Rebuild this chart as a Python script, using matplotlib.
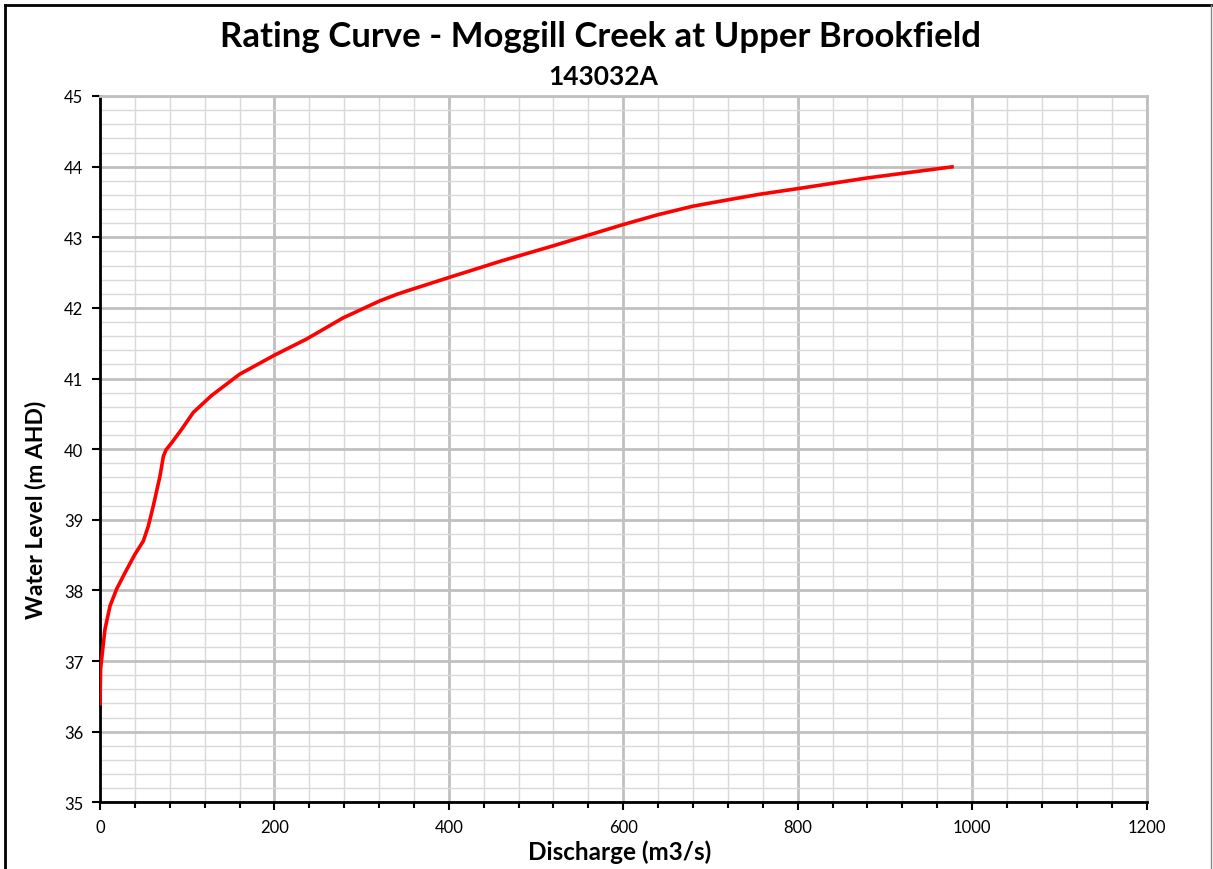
import matplotlib
matplotlib.use("Agg")
import matplotlib.pyplot as plt
from matplotlib.ticker import MultipleLocator
from matplotlib.lines import Line2D

# Data
discharge = [0, 0.7, 1.9, 5.7, 11.5, 19.1, 28.7, 40, 49.7, 55.4, 61.2, 68.8,
             72.7, 75.7, 82.2, 93.6, 107, 128, 160, 200, 237, 279, 321, 340,
             352, 400, 436, 459, 520, 600, 640, 680, 720, 757, 801, 880, 979]
level = [36.37, 36.89, 37.03, 37.45, 37.78, 38.02, 38.25, 38.51, 38.70, 38.91,
         39.20, 39.62, 39.90, 39.99, 40.09, 40.28, 40.52, 40.76, 41.06, 41.33,
         41.56, 41.86, 42.10, 42.19, 42.24, 42.43, 42.57, 42.66, 42.88, 43.18,
         43.32, 43.44, 43.53, 43.61, 43.69, 43.84, 44.0]

title = "Rating Curve - Moggill Creek at Upper Brookfield"
subtitle = "143032A"
xlabel = "Discharge (m3/s)"
ylabel = "Water Level (m AHD)"

plt.rcParams['font.family'] = ['Lato', 'DejaVu Sans']

W, H = 1213, 870
fig = plt.figure(figsize=(W / 100, H / 100), dpi=100)
ax = fig.add_axes([100 / W, 1 - 803.3 / H, (1146.5 - 100) / W, (803.3 - 97) / H])

ax.set_xlim(0, 1200)
ax.set_ylim(35, 45)
ax.xaxis.set_major_locator(MultipleLocator(200))
ax.xaxis.set_minor_locator(MultipleLocator(40))
ax.yaxis.set_major_locator(MultipleLocator(1))
ax.yaxis.set_minor_locator(MultipleLocator(0.2))

ax.grid(which='minor', color='#d9d9d9', linewidth=1.0, zorder=0)
ax.grid(which='major', color='#c0c0c0', linewidth=2.0, zorder=0)
ax.set_axisbelow(True)

ax.plot(discharge, level, color='#ff0000', linewidth=2.6, zorder=3,
        solid_capstyle='butt', solid_joinstyle='round')

for s in ['left', 'bottom']:
    ax.spines[s].set_color('black')
    ax.spines[s].set_linewidth(2.0)
for s in ['top', 'right']:
    ax.spines[s].set_color('#c0c0c0')
    ax.spines[s].set_linewidth(2.0)

ax.tick_params(axis='both', which='major', direction='out', length=6, width=1.5,
               labelsize=12, colors='black', pad=6)
ax.tick_params(axis='x', which='minor', direction='out', length=4, width=1.5)
ax.tick_params(axis='y', which='minor', length=0)

ax.set_xlabel(xlabel, fontsize=17.5, fontweight='bold')
ax.xaxis.label.set_va('center')
ax.xaxis.set_label_coords((620 - 100) / 1046.5, (803.3 - 852) / 706.3)
ax.set_ylabel(ylabel, fontsize=16.5, fontweight='bold')
ax.yaxis.label.set_va('center')
ax.yaxis.set_label_coords((36 - 100) / 1046.5, (803.3 - 510) / 706.3)

fig.text(601 / W, 1 - 37 / H, title, ha='center', va='center',
         fontsize=25, fontweight='bold')
fig.text(603 / W, 1 - 77 / H, subtitle, ha='center', va='center',
         fontsize=19, fontweight='bold')

# Figure border
bx0, by0, bx1 = 5 / W, 1 - 6 / H, 1211 / W
fig.add_artist(Line2D([bx0, bx0], [0, by0], transform=fig.transFigure,
                      color='black', linewidth=2))
fig.add_artist(Line2D([bx0, bx1], [by0, by0], transform=fig.transFigure,
                      color='black', linewidth=2))
fig.add_artist(Line2D([bx1, bx1], [0, by0], transform=fig.transFigure,
                      color='#888888', linewidth=1))

fig.savefig("out.png", dpi=100)
